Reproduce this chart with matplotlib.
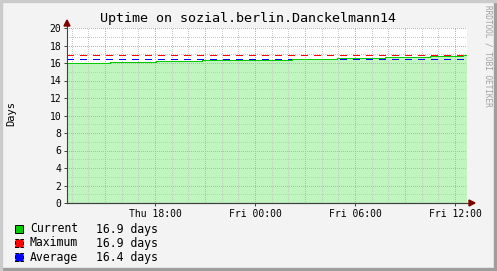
import numpy as np
import matplotlib
matplotlib.use("Agg")
import matplotlib.pyplot as plt
from matplotlib.patches import Rectangle, Polygon

# ---------------------------------- data ---------------------------------- #
# hours since the left edge of the window (Thu ~12:43), value in days
step_hours = [0.0, 2.58, 5.34, 8.10, 10.80, 13.50, 16.20, 19.08, 21.78, 23.76, 24.0]
uptime_days = [16.0, 16.1, 16.2, 16.3, 16.4, 16.5, 16.6, 16.7, 16.8, 16.9, 16.9]
max_days = 16.9
avg_days = 16.42

tick_hours = [5.28, 11.28, 17.28, 23.28]
tick_labels = ["Thu 18:00", "Fri 00:00", "Fri 06:00", "Fri 12:00"]
legend_names = ["Current", "Maximum", "Average"]
legend_values = [uptime_days[-1], max_days, avg_days]

title = "Uptime on sozial.berlin.Danckelmann14"
W, H = 497, 271
MONO = "DejaVu Sans Mono"
ONE_PX = 0.72   # 1 pixel in points at dpi 100


def px(x, y):
    """pixel (from top-left) -> figure fraction"""
    return x / W, 1 - y / H


fig = plt.figure(figsize=(W / 100, H / 100), dpi=100, facecolor="#F3F3F3")

# frame shading like rrdtool
fig.patches.append(Rectangle((0, 0), 1, 3 / H, transform=fig.transFigure,
                             color="#9E9E9E", zorder=0))
fig.patches.append(Rectangle((1 - 3 / W, 0), 3 / W, 1, transform=fig.transFigure,
                             color="#9E9E9E", zorder=0))
fig.patches.append(Rectangle((0, 1 - 2 / H), 1, 2 / H, transform=fig.transFigure,
                             color="#CBCBCB", zorder=0))
fig.patches.append(Rectangle((0, 0), 2 / W, 1, transform=fig.transFigure,
                             color="#CBCBCB", zorder=0))

left, top = px(67, 28)
right, bottom = px(467, 203)
ax = fig.add_axes([left, bottom, right - left, top - bottom])
ax.set_facecolor("white")
ax.set_xlim(0, 24)
ax.set_ylim(0, 20)

# grid (drawn by hand so it sits above the area)
minor_col = "#C8C8C8"
major_col = "#E8A0A0"
grid_kw = dict(lw=ONE_PX, ls=(0, (1, 2)), antialiased=False)
for h in np.arange(0.28, 24, 1.0):
    ax.axvline(h, color=minor_col, zorder=2, **grid_kw)
for y in range(1, 21, 2):
    ax.axhline(y, color=minor_col, zorder=2, **grid_kw)
for h in np.arange(2.28, 24, 3.0):
    ax.axvline(h, color=major_col, zorder=2.1, **grid_kw)
for y in range(2, 21, 2):
    ax.axhline(y, color=major_col, zorder=2.1, **grid_kw)

ax.fill_between(step_hours, uptime_days, step="post", color="#C0F5C0", lw=0, zorder=1)
ax.step(step_hours, uptime_days, where="post", color="#00CC00", lw=ONE_PX,
        antialiased=False, zorder=4)
ax.plot([0, 24], [max_days, max_days], color="#FF0000", lw=ONE_PX,
        linestyle=(0, (6, 6)), antialiased=False, zorder=3)
ax.plot([0, 24], [avg_days, avg_days], color="#0000FF", lw=ONE_PX,
        linestyle=(0, (6, 6)), antialiased=False, zorder=3)

for s in ["top", "right"]:
    ax.spines[s].set_visible(False)
for s in ["left", "bottom"]:
    ax.spines[s].set_color("#404040")
    ax.spines[s].set_linewidth(0.8)
    ax.spines[s].set_zorder(5)

ax.set_xticks(tick_hours)
ax.set_xticklabels(tick_labels, fontsize=7, family=MONO)
ax.set_yticks(range(0, 21, 2))
ax.set_yticklabels([str(v) for v in range(0, 21, 2)], fontsize=7, family=MONO)
ax.tick_params(axis="both", length=2, width=0.7, color="#404040", pad=2)

# axis arrows
fig.add_artist(plt.Line2D([left, px(472, 0)[0]], [bottom, bottom],
                          transform=fig.transFigure, color="#404040", lw=0.8))
fig.add_artist(plt.Line2D([left, left], [top, px(0, 24)[1]],
                          transform=fig.transFigure, color="#404040", lw=0.8))
fig.patches.append(Polygon([px(469, 200), px(469, 206), px(475, 203)],
                           transform=fig.transFigure, color="#800000", zorder=6))
fig.patches.append(Polygon([px(64, 26), px(70, 26), px(67, 20)],
                           transform=fig.transFigure, color="#800000", zorder=6))

# texts
fig.text(*px(248, 19), title, ha="center", va="center", fontsize=9.6, family=MONO)
fig.text(*px(11, 113), "Days", ha="center", va="center", rotation=90,
         fontsize=7.5, family=MONO)
fig.text(*px(488, 5), "RRDTOOL / TOBI OETIKER", ha="center", va="top",
         rotation=270, fontsize=5.6, family=MONO, color="#A0A0A0")

# legend
leg_colors = ["#00CC00", "#FF0000", "#0000FF"]
leg_edges = ["solid", "dashed", "dashed"]
for i, (name, val) in enumerate(zip(legend_names, legend_values)):
    yc = 229 + 14 * i
    x0, y0 = px(15, yc + 4)
    fig.patches.append(Rectangle((x0, y0), 8 / W, 8 / H, transform=fig.transFigure,
                                 facecolor=leg_colors[i], edgecolor="black",
                                 lw=0.7, ls=leg_edges[i], zorder=3))
    fig.text(*px(30, yc), name, ha="left", va="center", fontsize=8.3, family=MONO)
    fig.text(*px(96, yc), "%.1f days" % val, ha="left", va="center",
             fontsize=8.3, family=MONO)

fig.savefig("out.png", dpi=100, facecolor=fig.get_facecolor())
